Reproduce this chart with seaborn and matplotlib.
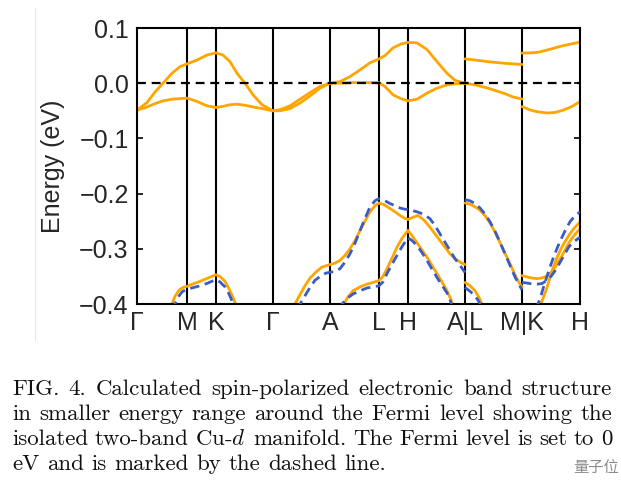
import numpy as np
import pandas as pd
import matplotlib
matplotlib.use("Agg")
import matplotlib.pyplot as plt
from matplotlib.lines import Line2D
import seaborn as sns

# k-path (distance along path, arbitrary units) and high-symmetry labels
kpath_ticks = [0, 50, 79, 136, 193, 242, 271, 328, 385, 443]
kpath_labels = ["Γ", "M", "K", "Γ", "A", "L", "H", "A|L", "M|K", "H"]
energy_ticks = [0.1, 0.0, -0.1, -0.2, -0.3, -0.4]

# isolated two-band Cu-d manifold near E_F (spin up only), Γ-M-K-Γ-A-L-H-A
k_fermi_1 = [0, 10, 18, 26, 35, 43, 50, 60, 70, 79, 86, 93, 100, 108, 116, 125, 133, 136,
             143, 153, 163, 173, 183, 193, 203, 213, 223, 233, 242, 248, 256, 264, 271,
             280, 290, 300, 310, 318, 328]
fermi_top_1 = [-0.049, -0.035, -0.016, 0.000, 0.018, 0.030, 0.035, 0.042, 0.051, 0.055,
               0.051, 0.039, 0.018, 0.000, -0.021, -0.039, -0.047, -0.050,
               -0.048, -0.041, -0.029, -0.017, -0.006, 0.000, 0.003, 0.012, 0.024, 0.037,
               0.044, 0.050, 0.064, 0.071, 0.074, 0.073, 0.061, 0.039, 0.018, 0.005, 0.000]
fermi_bot_1 = [-0.049, -0.043, -0.037, -0.032, -0.029, -0.028, -0.027, -0.033, -0.041,
               -0.044, -0.042, -0.039, -0.038, -0.040, -0.043, -0.046, -0.049, -0.050,
               -0.050, -0.046, -0.036, -0.023, -0.009, 0.000, 0.000, 0.001, 0.001, 0.001,
               0.001, -0.006, -0.021, -0.028, -0.032, -0.029, -0.018, -0.009, -0.003,
               -0.001, 0.000]
# L-M
k_fermi_2 = [328, 338, 351, 368, 376, 385]
fermi_top_2 = [0.044, 0.042, 0.039, 0.036, 0.035, 0.034]
fermi_bot_2 = [0.000, -0.003, -0.009, -0.019, -0.025, -0.0285]
# K-H
k_fermi_3 = [385, 394, 401, 410, 418, 426, 434, 443]
fermi_top_3 = [0.0545, 0.055, 0.056, 0.060, 0.064, 0.068, 0.071, 0.0745]
fermi_bot_3 = [-0.0425, -0.049, -0.052, -0.054, -0.053, -0.049, -0.043, -0.0335]

# lower bands, spin up (orange) and spin down (blue)
k_up_d1 = [33, 35, 38, 42, 46, 50, 57, 63, 71, 76, 79, 83, 88, 93, 96, 99, 101]
e_up_d1 = [-0.415, -0.400, -0.386, -0.375, -0.370, -0.368, -0.363, -0.359, -0.353, -0.349,
           -0.347, -0.350, -0.359, -0.376, -0.388, -0.402, -0.412]
k_dn_d1 = [36, 38, 41, 45, 50, 57, 63, 71, 76, 79, 83, 88, 91, 94, 96, 98]
e_dn_d1 = [-0.412, -0.400, -0.388, -0.378, -0.373, -0.370, -0.367, -0.362, -0.358, -0.356,
           -0.360, -0.369, -0.378, -0.390, -0.400, -0.410]

k_up_d2 = [156, 158, 163, 168, 173, 179, 185, 193, 198, 203, 208, 213, 218, 223, 228, 233,
           238, 242, 247, 253, 258, 263, 267, 271, 276, 281, 287, 293, 298, 303, 308, 313,
           318, 323, 328]
e_up_d2 = [-0.41, -0.40, -0.383, -0.367, -0.353, -0.342, -0.333, -0.3285, -0.326, -0.321,
           -0.312, -0.300, -0.285, -0.267, -0.250, -0.233, -0.222, -0.217, -0.220, -0.227,
           -0.233, -0.2395, -0.244, -0.247, -0.243, -0.2395, -0.248, -0.261, -0.273, -0.285,
           -0.297, -0.309, -0.318, -0.324, -0.3285]
k_dn_d2 = [161, 163, 168, 173, 178, 184, 189, 193, 198, 203, 208, 213, 218, 223, 228, 233,
           238, 242, 247, 253, 258, 263, 267, 271, 276, 281, 287, 293, 298, 303, 308, 313,
           318, 323, 328]
e_dn_d2 = [-0.41, -0.40, -0.385, -0.370, -0.357, -0.349, -0.344, -0.3425, -0.341, -0.336,
           -0.324, -0.309, -0.290, -0.267, -0.245, -0.224, -0.213, -0.209, -0.212, -0.218,
           -0.222, -0.226, -0.228, -0.229, -0.231, -0.2335, -0.238, -0.2455, -0.258, -0.273,
           -0.288, -0.303, -0.318, -0.330, -0.343]

k_up_d3 = [205, 207, 211, 216, 223, 230, 236, 242, 246, 250, 255, 260, 265, 271, 275, 280,
           285, 290, 295, 300, 305, 310, 314, 317]
e_up_d3 = [-0.41, -0.40, -0.387, -0.376, -0.369, -0.364, -0.361, -0.3576, -0.350, -0.336,
           -0.317, -0.297, -0.281, -0.2667, -0.276, -0.289, -0.302, -0.315, -0.330, -0.345,
           -0.360, -0.376, -0.392, -0.41]
k_dn_d3 = [203, 205, 210, 216, 223, 230, 236, 242, 246, 250, 255, 260, 265, 271, 275, 280,
           285, 290, 295, 300, 305, 310, 313, 316]
e_dn_d3 = [-0.41, -0.40, -0.390, -0.382, -0.376, -0.371, -0.369, -0.367, -0.360, -0.345,
           -0.328, -0.312, -0.296, -0.280, -0.285, -0.294, -0.307, -0.321, -0.337, -0.352,
           -0.366, -0.380, -0.392, -0.41]

k_up_d4 = [328, 333, 338, 343, 348, 353, 358, 363, 368, 373, 378, 381, 385]
e_up_d4 = [-0.217, -0.219, -0.224, -0.230, -0.240, -0.253, -0.270, -0.289, -0.308, -0.327,
           -0.347, -0.358, -0.369]
k_dn_d4 = [328, 333, 338, 343, 348, 353, 358, 363, 368, 373, 378, 385]
e_dn_d4 = [-0.211, -0.213, -0.218, -0.226, -0.237, -0.251, -0.268, -0.288, -0.309, -0.330,
           -0.351, -0.3745]

k_up_d5 = [328, 333, 338, 342, 345, 347]
e_up_d5 = [-0.361, -0.367, -0.376, -0.388, -0.400, -0.41]
k_dn_d5 = [328, 333, 338, 341, 343, 345]
e_dn_d5 = [-0.370, -0.377, -0.385, -0.393, -0.400, -0.41]

k_up_d6 = [385, 390, 395, 400, 405, 410, 414, 418, 422, 427, 432, 437, 443]
e_up_d6 = [-0.3485, -0.351, -0.353, -0.354, -0.353, -0.349, -0.343, -0.334, -0.322, -0.306,
           -0.289, -0.276, -0.2636]
k_dn_d6 = [385, 390, 395, 400, 405, 410, 414, 418, 422, 427, 432, 437, 443]
e_dn_d6 = [-0.361, -0.362, -0.3636, -0.364, -0.363, -0.357, -0.350, -0.340, -0.328, -0.312,
           -0.296, -0.287, -0.279]

k_up_d7 = [403, 404, 407, 410, 413, 416, 420, 424, 428, 432, 437, 443]
e_up_d7 = [-0.41, -0.40, -0.385, -0.370, -0.352, -0.335, -0.316, -0.300, -0.287, -0.275,
           -0.263, -0.2515]
k_dn_d7 = [400, 401, 404, 407, 410, 413, 417, 421, 425, 429, 433, 438, 443]
e_dn_d7 = [-0.41, -0.40, -0.385, -0.366, -0.350, -0.333, -0.313, -0.295, -0.279, -0.264,
           -0.251, -0.240, -0.2335]

caption_lines = [
    "FIG. 4.  Calculated spin-polarized electronic band structure",
    "in smaller energy range around the Fermi level showing the",
    "isolated two-band Cu-$d$ manifold. The Fermi level is set to 0",
    "eV and is marked by the dashed line.",
]
watermark = "量子位"

ORANGE = "#ffa500"
BLUE = "#3a5cc6"


def long_form(pieces, spin):
    frames = []
    for i, (k, e) in enumerate(pieces):
        frames.append(pd.DataFrame({"k": k, "E": e, "band": f"{spin}{i}", "spin": spin}))
    return pd.concat(frames, ignore_index=True)


up_df = long_form([(k_fermi_1, fermi_top_1), (k_fermi_1, fermi_bot_1),
                   (k_fermi_2, fermi_top_2), (k_fermi_2, fermi_bot_2),
                   (k_fermi_3, fermi_top_3), (k_fermi_3, fermi_bot_3),
                   (k_up_d1, e_up_d1), (k_up_d2, e_up_d2), (k_up_d3, e_up_d3),
                   (k_up_d4, e_up_d4), (k_up_d5, e_up_d5), (k_up_d6, e_up_d6),
                   (k_up_d7, e_up_d7)], "up")
dn_df = long_form([(k_dn_d1, e_dn_d1), (k_dn_d2, e_dn_d2), (k_dn_d3, e_dn_d3),
                   (k_dn_d4, e_dn_d4), (k_dn_d5, e_dn_d5), (k_dn_d6, e_dn_d6),
                   (k_dn_d7, e_dn_d7)], "down")

sns.set_style("ticks")
plt.rcParams["font.family"] = ["Liberation Sans", "DejaVu Sans"]
plt.rcParams["mathtext.fontset"] = "cm"

W, H = 621, 492
fig = plt.figure(figsize=(W / 100, H / 100), dpi=100)
ax = fig.add_axes([137 / W, 1 - 304 / H, 443 / W, 276 / H])

for k in kpath_ticks[1:-1]:
    ax.axvline(k, color="black", lw=1.5, zorder=1)

sns.lineplot(data=up_df, x="k", y="E", units="band", estimator=None, sort=False,
             color=ORANGE, lw=2.0, ax=ax, legend=False, zorder=2)
sns.lineplot(data=dn_df, x="k", y="E", units="band", estimator=None, sort=False,
             color=BLUE, lw=2.0, ax=ax, legend=False, zorder=3,
             linestyle=(0, (3.4, 2.0)))
ax.axhline(0, color="black", lw=1.6, ls=(0, (4, 2.6)), zorder=4)

ax.set_xlim(kpath_ticks[0], kpath_ticks[-1])
ax.set_ylim(-0.4, 0.1)
ax.set_yticks(energy_ticks)
ax.set_xticks(kpath_ticks, kpath_labels)
ax.set_xlabel("")
ax.set_ylabel("Energy (eV)", fontsize=18, labelpad=10)
ax.tick_params(axis="y", direction="in", length=4.5, width=1.4, right=True,
               labelsize=18, pad=6)
ax.tick_params(axis="x", length=0, labelsize=18, pad=5)
for s in ax.spines.values():
    s.set_linewidth(1.5)
    s.set_color("black")

# caption, justified like the paper; size chosen so the first line fills the width
renderer = fig.canvas.get_renderer()
left_px, right_px = 12, 612
baselines = [395, 420, 445, 470]
probe = fig.text(0, 0, caption_lines[0], family="cmr10", fontsize=10)
cap_size = 10 * (right_px - left_px) / probe.get_window_extent(renderer).width
probe.remove()
space_px = fig.text(0, 0, "a b", family="cmr10", fontsize=cap_size)
ab = fig.text(0, 0, "ab", family="cmr10", fontsize=cap_size)
space_w = space_px.get_window_extent(renderer).width - ab.get_window_extent(renderer).width
space_px.remove()
ab.remove()

for n, (line, yb) in enumerate(zip(caption_lines, baselines)):
    words = line.split()
    texts = [fig.text(0, 1 - yb / H, w, family="cmr10", fontsize=cap_size, va="baseline",
                      color="#111111") for w in words]
    widths = [t.get_window_extent(renderer).width for t in texts]
    if n < len(caption_lines) - 1:
        gap = (right_px - left_px - sum(widths)) / (len(words) - 1)
    else:
        gap = space_w
    x = left_px
    for t, w in zip(texts, widths):
        t.set_x(x / W)
        x += w + gap

fig.text(1 - 2 / W, 1 - 472 / H, watermark, family=["Noto Sans CJK SC"], fontsize=11,
         color="#8a8a8a", ha="right", va="baseline")
fig.add_artist(Line2D([35 / W, 35 / W], [1 - 8 / H, 1 - 340 / H], color="#e8e8e8", lw=0.8))

fig.savefig("out.png", dpi=100)
